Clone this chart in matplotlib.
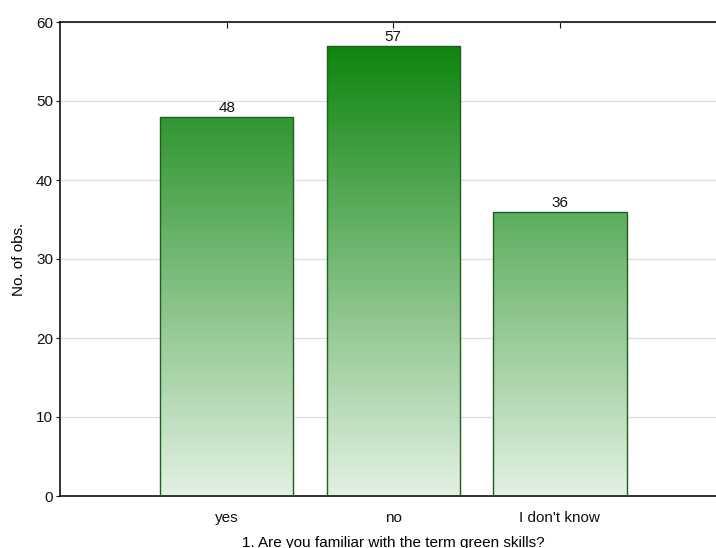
import matplotlib
matplotlib.use("Agg")
import matplotlib.pyplot as plt
import numpy as np
from matplotlib.colors import LinearSegmentedColormap

categories = ["yes", "no", "I don't know"]
counts = [48, 57, 36]
y_ticks = [0, 10, 20, 30, 40, 50, 60]
y_label = "No. of obs."
x_label = "1. Are you familiar with the term green skills?"

plt.rcParams['font.family'] = ['Liberation Sans', 'DejaVu Sans']
plt.rcParams['font.size'] = 11

fig = plt.figure(figsize=(7.16, 5.48), dpi=100)
W, H = 716, 548
left, right, bottom, top = 60, 726.5, 496, 22
ax = fig.add_axes([left / W, 1 - bottom / H, (right - left) / W, (bottom - top) / H])

cmap = LinearSegmentedColormap.from_list("g", ["#e3f1e3", "#0e850e"])
x = np.arange(len(categories))
bars = ax.bar(x, counts, width=0.8, facecolor="none", edgecolor="#1e5e1e", linewidth=1.0, zorder=3)

grad = np.linspace(0, 1, 256).reshape(-1, 1)
for b in bars:
    x0 = b.get_x()
    w = b.get_width()
    im = ax.imshow(grad, cmap=cmap, origin="lower", aspect="auto",
                   extent=[x0, x0 + w, 0, 57], vmin=0, vmax=1, zorder=2,
                   interpolation="bilinear")
    im.set_clip_path(b)

for xi, c in zip(x, counts):
    ax.text(xi, c + 0.25, str(c), ha="center", va="bottom", fontsize=11, color="#111111", zorder=4)

ax.set_xlim(-1, 3)
ax.set_ylim(0, 60)
ax.set_yticks(y_ticks)
ax.set_xticks(x)
ax.set_xticklabels(categories)
ax.yaxis.grid(True, color="#dedede", linewidth=0.9, zorder=0)
ax.set_axisbelow(True)

for s in ["left", "bottom", "top"]:
    ax.spines[s].set_color("#111111")
    ax.spines[s].set_linewidth(1.2)
ax.spines["right"].set_visible(False)

ax.tick_params(axis="x", direction="in", length=4, top=True, bottom=True, pad=11, colors="#111111", labelsize=11)
ax.tick_params(axis="y", direction="out", length=3, pad=2, colors="#111111", labelsize=11)

ax.set_ylabel(y_label, fontsize=11, labelpad=7)
ax.set_xlabel(x_label, fontsize=11, labelpad=7.5)

fig.savefig("out.png", dpi=100)
